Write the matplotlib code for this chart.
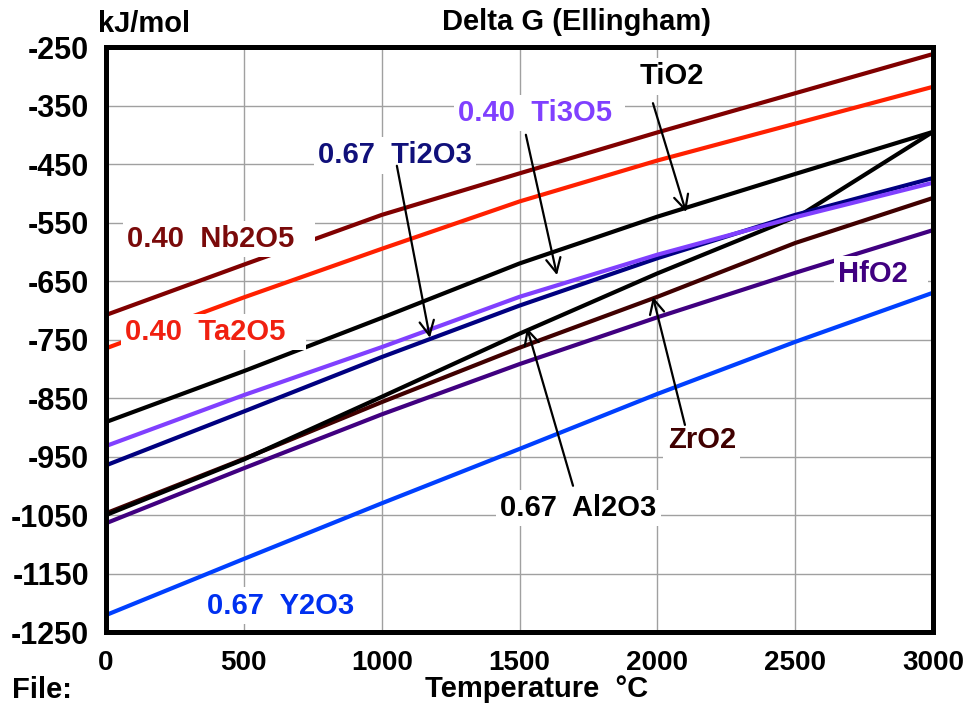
import matplotlib
matplotlib.use("Agg")
import matplotlib.pyplot as plt

plt.rcParams['font.family'] = ['Liberation Sans', 'DejaVu Sans']
plt.rcParams['font.weight'] = 'bold'
plt.rcParams['axes.unicode_minus'] = False

# temperature grid (deg C) and Delta G values (kJ/mol)
temps = [0, 500, 1000, 1500, 2000, 2500, 3000]
nb2o5 = [-708, -622, -537, -466, -396, -329, -262]
ta2o5 = [-765, -678, -595, -514, -444, -381, -318]
tio2 = [-891, -804, -713, -620, -540, -467, -395]
ti3o5 = [-932, -845, -763, -677, -605, -541, -482]
ti2o3 = [-965, -873, -780, -692, -611, -537, -474]
al2o3_temps = [0, 500, 1000, 1500, 2000, 2520, 3000]
al2o3 = [-1050, -955, -848, -740, -637, -537, -395]
zro2 = [-1047, -954, -857, -764, -677, -585, -508]
hfo2 = [-1064, -970, -878, -792, -712, -636, -563]
y2o3 = [-1221, -1125, -1030, -937, -843, -754, -670]

x_ticks = [0, 500, 1000, 1500, 2000, 2500, 3000]
y_ticks = [-250, -350, -450, -550, -650, -750, -850, -950, -1050, -1150, -1250]

fig = plt.figure(figsize=(9.71, 7.08), dpi=100)
ax = fig.add_axes([0.1092, 0.1073, 0.8517, 0.8263])

lw = 3.0
# draw order matters where the curves overlap
ax.plot(temps, y2o3, color='#0040ff', lw=lw)
ax.plot(temps, hfo2, color='#400080', lw=lw)
ax.plot(temps, zro2, color='#400000', lw=lw)
ax.plot(al2o3_temps, al2o3, color='black', lw=lw)
ax.plot(temps, ti2o3, color='#000080', lw=lw)
ax.plot(temps, ti3o5, color='#8040ff', lw=lw)
ax.plot(temps, tio2, color='black', lw=lw)
ax.plot(temps, ta2o5, color='#ff2000', lw=lw)
ax.plot(temps, nb2o5, color='#800000', lw=lw)

ax.set_xlim(0, 3000)
ax.set_ylim(-1250, -250)
ax.set_xticks(x_ticks)
ax.set_yticks(y_ticks)
ax.grid(True, color='#a0a0a0', lw=1.0)
ax.set_axisbelow(True)
ax.tick_params(axis='both', length=0)
ax.tick_params(axis='y', pad=12, labelsize=22)
ax.tick_params(axis='x', pad=13, labelsize=20)
for s in ax.spines.values():
    s.set_linewidth(3.6)
    s.set_zorder(5)

box = dict(boxstyle='square,pad=0.15', fc='white', ec='none')
fs = 21

def label(x, y, s, c):
    ax.text(x, y, s, color=c, fontsize=fs, fontweight='bold', ha='left', va='center',
            bbox=box, zorder=6)

label(76, -578, '0.40  Nb2O5  ', '#7a0a0a')
label(69, -737, '0.40  Ta2O5  ', '#f02010')
label(1277, -363, '0.40  Ti3O5 ', '#8040ff')
label(769, -435, '0.67  Ti2O3', '#10107a')
label(1937, -300, 'TiO2', 'black')
label(2655, -638, 'HfO2  ', '#400080')
label(2038, -922, 'ZrO2', '#400000')
label(1429, -1038, '0.67  Al2O3', 'black')
label(366, -1205, '0.67  Y2O3', '#0030f0')

arrow = dict(arrowstyle='->', color='black', lw=1.6, mutation_scale=26, shrinkA=0, shrinkB=0)
ax.annotate('', xy=(2104, -532), xytext=(1984, -346), arrowprops=arrow, zorder=7)
ax.annotate('', xy=(1636, -640), xytext=(1523, -400), arrowprops=arrow, zorder=7)
ax.annotate('', xy=(1175, -747), xytext=(1055, -453), arrowprops=arrow, zorder=7)
ax.annotate('', xy=(1984, -677), xytext=(2100, -896), arrowprops=arrow, zorder=7)
ax.annotate('', xy=(1527, -730), xytext=(1694, -1000), arrowprops=arrow, zorder=7)

# titles and axis captions
fig.text(98 / 971, 1 - 24 / 708, 'kJ/mol', fontsize=fs, ha='left', va='center')
fig.text(576 / 971, 1 - 22 / 708, 'Delta G (Ellingham)', fontsize=fs, ha='center', va='center')
fig.text(12 / 971, 1 - 690 / 708, 'File:', fontsize=fs, ha='left', va='center',
         bbox=dict(boxstyle='square,pad=0.1', fc='white', ec='none'))
fig.text(537 / 971, 1 - 689 / 708, 'Temperature  °C', fontsize=fs, ha='center', va='center',
         bbox=dict(boxstyle='square,pad=0.1', fc='white', ec='none'))

fig.savefig('out.png', dpi=100, facecolor='white')
